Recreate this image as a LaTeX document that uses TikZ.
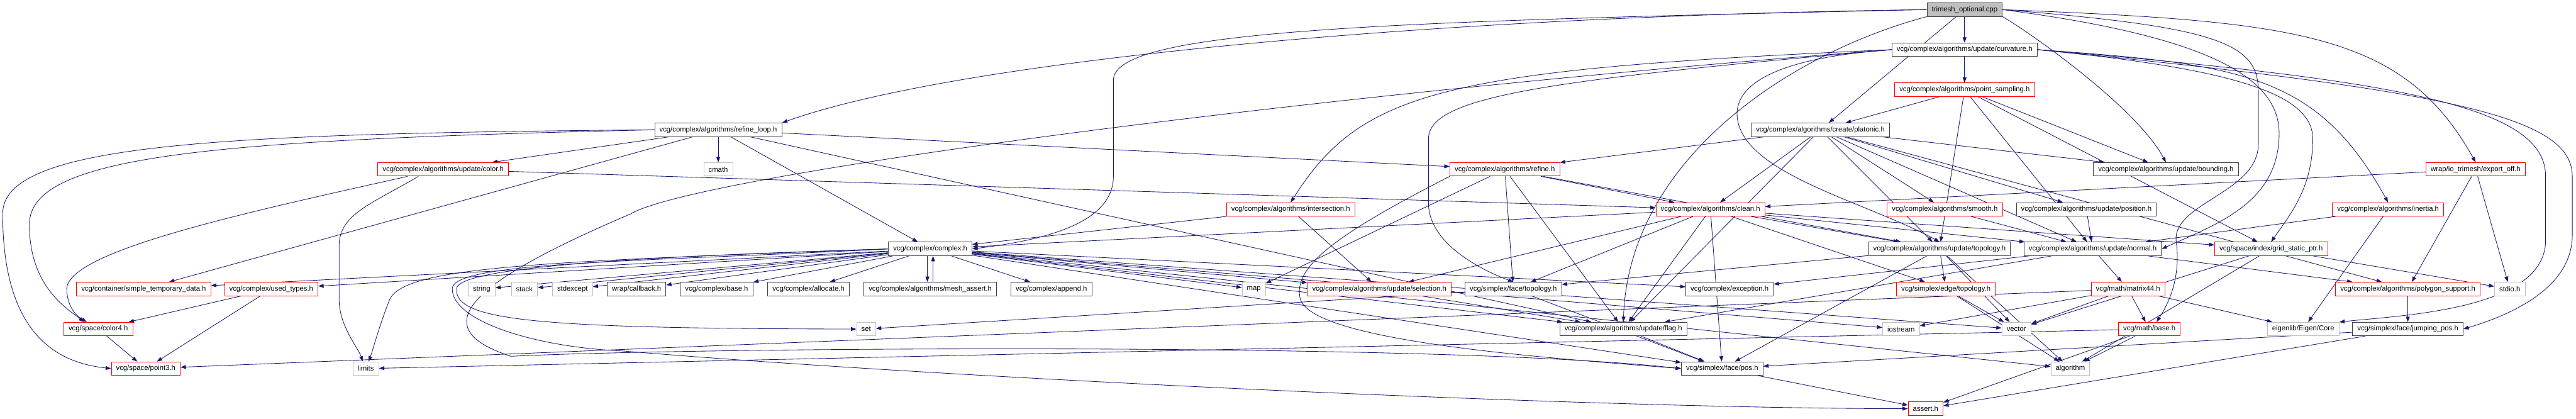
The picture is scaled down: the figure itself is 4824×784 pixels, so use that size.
\documentclass[tikz,border=0pt]{standalone}
\usepackage{fontspec}
\setmainfont{Liberation Sans}
\usetikzlibrary{arrows.meta,backgrounds}
\definecolor{edgeblue}{HTML}{191970}
\definecolor{redline}{HTML}{FF0000}
\definecolor{grayline}{HTML}{BFBFBF}
\definecolor{darkline}{HTML}{404040}
\tikzset{
  hdr/.style={draw=darkline, fill=white, rectangle, inner xsep=6.75pt, inner ysep=0pt,
    minimum height=19pt, font=\fontsize{10}{12}\selectfont, line width=0.75pt},
  trunc/.style={hdr, draw=redline},
  sys/.style={hdr, draw=grayline},
  root/.style={hdr, fill=grayline},
  dep/.style={draw=edgeblue, line width=0.75pt, -{Triangle[length=7.5pt,width=5.4pt]}}
}
\begin{document}
\begin{tikzpicture}[x=0.75pt, y=-0.75pt]
    \useasboundingbox (0,0) rectangle (4824,784);

    % upper ranks
    \node[root]  (T)       at (3679,18)  {trimesh\_optional.cpp};
    \node[hdr]   (curv)    at (3679,93)  {vcg/complex/algorithms/update/curvature.h};
    \node[trunc] (psamp)   at (3679,168) {vcg/complex/algorithms/point\_sampling.h};
    \node[hdr]   (rloop)   at (1345,243) {vcg/complex/algorithms/refine\_loop.h};
    \node[hdr]   (plat)    at (3409,243) {vcg/complex/algorithms/create/platonic.h};
    \node[trunc] (ucolor)  at (830,317)  {vcg/complex/algorithms/update/color.h};
    \node[sys]   (cmath)   at (1345,317) {cmath};
    \node[trunc] (refine)  at (2818,317) {vcg/complex/algorithms/refine.h};
    \node[hdr]   (bbox)    at (4056,317) {vcg/complex/algorithms/update/bounding.h};
    \node[trunc] (eoff)    at (4636,317) {wrap/io\_trimesh/export\_off.h};
    \node[trunc] (isect)   at (2417,392) {vcg/complex/algorithms/intersection.h};
    \node[trunc] (clean)   at (3203,392) {vcg/complex/algorithms/clean.h};
    \node[trunc] (smooth)  at (3642,392) {vcg/complex/algorithms/smooth.h};
    \node[hdr]   (upos)    at (3907,392) {vcg/complex/algorithms/update/position.h};
    \node[trunc] (inertia) at (4472,392) {vcg/complex/algorithms/inertia.h};
    \node[hdr]   (cplx)    at (1742,466) {vcg/complex/complex.h};
    \node[hdr]   (utopo)   at (3632,466) {vcg/complex/algorithms/update/topology.h};
    \node[hdr]   (unorm)   at (3919,466) {vcg/complex/algorithms/update/normal.h};
    \node[trunc] (grid)    at (4253,466) {vcg/space/index/grid\_static\_ptr.h};

    % lower ranks
    \node[trunc] (stmp)    at (269,541)  {vcg/container/simple\_temporary\_data.h};
    \node[trunc] (utypes)  at (508,541)  {vcg/complex/used\_types.h};
    \node[sys]   (string)  at (902,541)  {string};
    \node[sys]   (stack)   at (982,541)  {stack};
    \node[sys]   (stdexc)  at (1072,541) {stdexcept};
    \node[hdr]   (callback) at (1192,541) {wrap/callback.h};
    \node[hdr]   (base)    at (1342,541) {vcg/complex/base.h};
    \node[hdr]   (alloc)   at (1514,541) {vcg/complex/allocate.h};
    \node[hdr]   (massert) at (1742,541) {vcg/complex/algorithms/mesh\_assert.h};
    \node[hdr]   (append)  at (1969,541) {vcg/complex/append.h};
    \node[sys]   (map)     at (2348,541) {map};
    \node[trunc] (usel)    at (2583,541) {vcg/complex/algorithms/update/selection.h};
    \node[hdr]   (ftopo)   at (2834,541) {vcg/simplex/face/topology.h};
    \node[hdr]   (exc)     at (3239,541) {vcg/complex/exception.h};
    \node[trunc] (etopo)   at (3644,541) {vcg/simplex/edge/topology.h};
    \node[trunc] (mat44)   at (3985,541) {vcg/math/matrix44.h};
    \node[trunc] (poly)    at (4509,541) {vcg/complex/algorithms/polygon\_support.h};
    \node[sys]   (stdio)   at (4700,541) {stdio.h};
    \node[trunc] (color4)  at (184,616)  {vcg/space/color4.h};
    \node[sys]   (set)     at (1622,616) {set};
    \node[hdr]   (flag)    at (3040,616) {vcg/complex/algorithms/update/flag.h};
    \node[sys]   (iostream) at (3560,616) {iostream};
    \node[sys]   (vector)  at (3776,616) {vector};
    \node[trunc] (mbase)   at (4025,616) {vcg/math/base.h};
    \node[sys]   (eigen)   at (4313,616) {eigenlib/Eigen/Core};
    \node[hdr]   (jpos)    at (4509,616) {vcg/simplex/face/jumping\_pos.h};
    \node[trunc] (point3)  at (273,690)  {vcg/space/point3.h};
    \node[sys]   (limits)  at (685,690)  {limits};
    \node[hdr]   (fpos)    at (3225,690) {vcg/simplex/face/pos.h};
    \node[sys]   (algo)    at (3877,690) {algorithm};
    \node[trunc] (assert)  at (3606,765) {assert.h};

    \begin{scope}[on background layer]
    % plain include edges
    \foreach \a/\b in {T/curv, T/plat, curv/psamp, psamp/plat, psamp/bbox, psamp/utopo,
                        psamp/unorm, psamp/grid, rloop/cmath, rloop/ucolor, rloop/refine,
                        rloop/stmp, rloop/cplx, rloop/flag, ucolor/clean,
                        plat/refine, plat/flag, plat/clean, plat/smooth, plat/upos, plat/bbox,
                        plat/utopo, plat/unorm, plat/poly,
                        refine/map, refine/ftopo, refine/flag, refine/clean, refine/utopo,
                        isect/usel, isect/cplx,
                        clean/usel, clean/ftopo, clean/cplx, clean/fpos, clean/utopo,
                        clean/etopo, clean/unorm, clean/grid, clean/flag,
                        smooth/unorm, upos/unorm, inertia/unorm, inertia/eigen,
                        eoff/poly, eoff/stdio, eoff/clean,
                        cplx/string, cplx/stack, cplx/stdexc, cplx/callback, cplx/base,
                        cplx/alloc, cplx/append, cplx/map, cplx/stmp, cplx/utypes,
                        cplx/usel, cplx/exc, cplx/flag, cplx/fpos, cplx/iostream,
                        cplx/vector, cplx/algo,
                        utopo/ftopo, utopo/etopo, utopo/fpos, utopo/vector, utopo/algo,
                        unorm/mat44, unorm/exc, unorm/flag, unorm/poly,
                        grid/vector, grid/stdio, grid/algo,
                        etopo/vector, etopo/algo, ftopo/fpos, ftopo/set, usel/flag,
                        flag/fpos, mat44/mbase, mat44/point3, mat44/vector,
                        mat44/iostream, mat44/eigen, mbase/limits, mbase/algo,
                        mbase/assert, fpos/assert, jpos/fpos, jpos/assert, poly/jpos,
                        color4/point3, utypes/color4, utypes/point3}{
        \draw[dep] (\a) -- (\b);
    }
    \draw[dep] ([xshift=-4pt]cplx.south) -- ([xshift=-4pt]massert.north);
    \draw[dep] ([xshift=4pt]massert.north) -- ([xshift=4pt]cplx.south);

    % long routed edges
    \draw[dep] (T.west) .. controls (2700,30) and (1800,110) .. (rloop.north east);
    \draw[dep] (T.west) .. controls (2600,40) and (2085,55) .. (2085,150)
        -- (2085,330) .. controls (2085,420) and (1950,450) .. (cplx.east);
    \draw[dep] (T.south west) .. controls (3350,100) and (3050,300) .. (flag.north);
    \draw[dep] (T.south east) .. controls (3800,60) and (4000,200) .. (bbox.north);
    \draw[dep] (T.east) .. controls (4300,40) and (4500,60) .. (eoff.north);
    \draw[dep] (T.east) .. controls (4150,50) and (4229,80) .. (4229,170)
        -- (4229,270) .. controls (4229,360) and (4070,380) .. (4075,450)
        .. controls (4085,520) and (4060,570) .. ([xshift=10pt]mbase.north);
    \draw[dep] (T.east) .. controls (4150,70) and (4268,150) .. (4268,250)
        .. controls (4268,380) and (4150,420) .. (unorm.east);

    \draw[dep] (curv.west) .. controls (2700,130) and (2550,170) .. (isect.north);
    \draw[dep] (curv.west) .. controls (2900,150) and (2675,180) .. (2675,260)
        -- (2675,380) .. controls (2675,450) and (2760,500) .. (ftopo.north);
    \draw[dep] (curv.west) .. controls (3300,110) and (3240,170) .. (3255,230)
        .. controls (3280,330) and (3500,380) .. (utopo.north);
    \draw[dep] (curv.west) .. controls (2400,180) and (1300,330) .. (1182,400)
        .. controls (900,520) and (780,610) .. (957,667)
        .. controls (1300,650) and (2700,640) .. (fpos.west);
    \draw[dep] (curv.east) .. controls (4200,120) and (4340,140) .. (inertia.north);
    \draw[dep] (curv.east) .. controls (4200,130) and (4331,180) .. (4331,260)
        .. controls (4331,350) and (4290,400) .. (grid.north);
    \draw[dep] (curv.east) .. controls (4500,150) and (4767,200) .. (4767,330)
        -- (4767,450) .. controls (4767,580) and (4500,590) .. (eigen.north east);
    \draw[dep] (curv.east) .. controls (4600,170) and (4817,220) .. (4817,330)
        -- (4817,440) .. controls (4817,540) and (4700,590) .. (jpos.east);

    \draw[dep] (refine.south west) .. controls (2500,440) and (2420,500) .. (2435,560)
        .. controls (2460,640) and (2900,670) .. (fpos.west);

    \draw[dep] (rloop.west) .. controls (400,250) and (5,270) .. (5,400)
        .. controls (5,640) and (120,680) .. (point3.west);
    \draw[dep] (rloop.west) .. controls (400,262) and (55,290) .. (55,420)
        .. controls (55,540) and (130,580) .. ([xshift=-20pt]color4.north);
    \draw[dep] ([xshift=-50pt]ucolor.south) .. controls (450,400) and (130,470) .. (125,540)
        .. controls (125,570) and (140,590) .. ([xshift=-16pt]color4.north);
    \draw[dep] ([xshift=-35pt]ucolor.south) .. controls (700,380) and (635,400) .. (635,460)
        -- (635,560) .. controls (635,610) and (670,650) .. ([xshift=-4pt]limits.north);
    \draw[dep] (cplx.west) .. controls (1000,490) and (760,500) .. (730,560)
        .. controls (710,610) and (700,650) .. ([xshift=4pt]limits.north);
    \draw[dep] (cplx.west) .. controls (1200,480) and (860,500) .. (855,540)
        .. controls (850,600) and (1000,615) .. (set.west);
    \draw[dep] (cplx.west) .. controls (1200,490) and (850,490) .. (847,540)
        .. controls (845,600) and (1000,650) .. (1166,657)
        .. controls (1800,710) and (3000,765) .. (assert.west);
    \end{scope}

\end{tikzpicture}
\end{document}
